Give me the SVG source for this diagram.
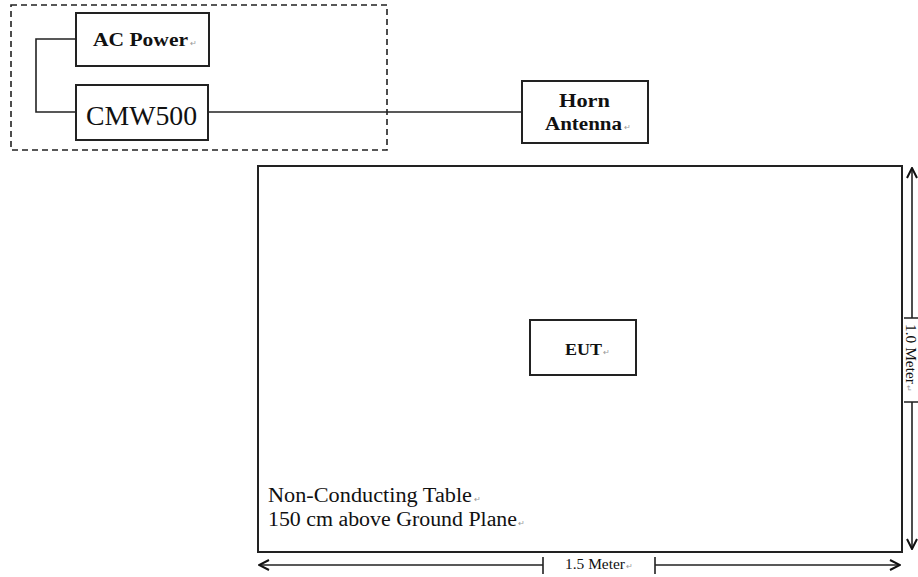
<svg xmlns="http://www.w3.org/2000/svg" width="918" height="577" viewBox="0 0 918 577">
<defs>
<style>
.box{fill:#fff;stroke:#222;stroke-width:2}
.ln{fill:none;stroke:#222;stroke-width:1.6}
.t{font-family:"Liberation Serif","Times New Roman",serif;fill:#111}
.b{font-weight:bold}
.pm{font-size:8px;fill:#999;font-weight:normal}
</style>
<marker id="ah" viewBox="0 0 12 12" refX="11" refY="6" markerWidth="12" markerHeight="12" markerUnits="userSpaceOnUse" orient="auto-start-reverse">
<path d="M1,1 L11,6 L1,11" fill="none" stroke="#111" stroke-width="2"/>
</marker>
</defs>
<rect x="0" y="0" width="918" height="577" fill="#fff"/>
<rect id="group" x="11" y="5" width="376" height="145" fill="none" stroke="#222" stroke-width="1.6" stroke-dasharray="6,4"/>
<g id="connectors">
<path class="ln" d="M76,39 H36 V112 H76"/>
<path class="ln" d="M208,112 H522"/>
</g>
<g id="ac-power">
<rect class="box" x="76" y="13" width="133" height="53"/>
<text class="t b" x="93" y="46" font-size="18" textLength="95" lengthAdjust="spacingAndGlyphs">AC Power</text>
<text class="t pm" x="190" y="46">↵</text>
</g>
<g id="cmw500">
<rect class="box" x="76" y="85" width="132" height="55"/>
<text class="t" x="86" y="125" font-size="28" textLength="111" lengthAdjust="spacingAndGlyphs">CMW500</text>
</g>
<g id="horn-antenna">
<rect class="box" x="522" y="81" width="126" height="62"/>
<text class="t b" x="559" y="107" font-size="18" textLength="51" lengthAdjust="spacingAndGlyphs">Horn</text>
<text class="t b" x="545" y="130" font-size="18" textLength="77" lengthAdjust="spacingAndGlyphs">Antenna</text>
<text class="t pm" x="624" y="130">↵</text>
</g>
<g id="table">
<rect class="box" x="258" y="166" width="644" height="386" stroke-width="2.5"/>
<text class="t" x="268" y="502" font-size="20" textLength="204" lengthAdjust="spacingAndGlyphs">Non-Conducting Table</text>
<text class="t pm" x="474" y="502">↵</text>
<text class="t" x="268" y="526" font-size="20" textLength="249" lengthAdjust="spacingAndGlyphs">150 cm above Ground Plane</text>
<text class="t pm" x="518" y="526">↵</text>
</g>
<g id="eut">
<rect class="box" x="530" y="320" width="106" height="55"/>
<text class="t b" x="565" y="355" font-size="17" textLength="37" lengthAdjust="spacingAndGlyphs">EUT</text>
<text class="t pm" x="603" y="355">↵</text>
</g>
<g id="dim-width">
<path class="ln" d="M543,565 H259" marker-end="url(#ah)"/>
<path class="ln" d="M655,565 H900" marker-end="url(#ah)"/>
<path class="ln" d="M543,557 V574 M655,557 V574"/>
<text class="t" x="565" y="569" font-size="14" textLength="60" lengthAdjust="spacingAndGlyphs">1.5 Meter</text>
<text class="t pm" x="626" y="569">↵</text>
</g>
<g id="dim-height">
<path class="ln" d="M912,318 V168" marker-end="url(#ah)"/>
<path class="ln" d="M912,402 V549" marker-end="url(#ah)"/>
<path class="ln" d="M904,318 H920 M904,402 H920"/>
<g transform="translate(906,0) rotate(90)">
<text class="t" x="324" y="0" font-size="14" textLength="60" lengthAdjust="spacingAndGlyphs">1.0 Meter</text>
<text class="t pm" x="385" y="0">↵</text>
</g>
</g>
</svg>
